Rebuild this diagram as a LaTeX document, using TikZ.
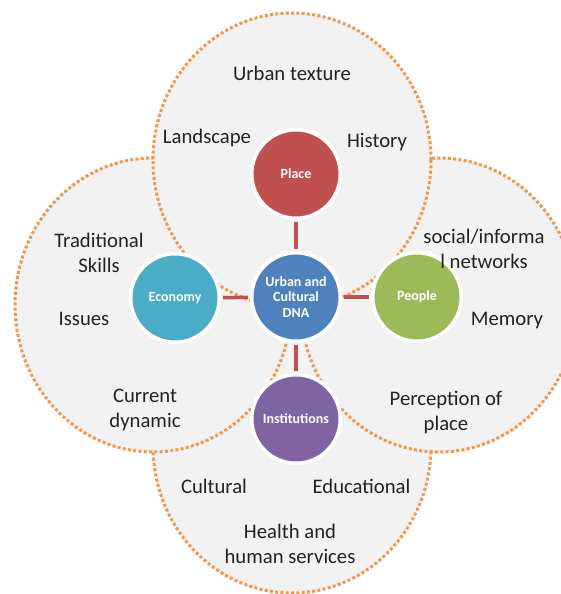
\documentclass[tikz,border=0pt]{standalone}
\usepackage{fontspec}
\setmainfont{Carlito}
\definecolor{placec}{HTML}{C0504D}
\definecolor{econc}{HTML}{4BACC6}
\definecolor{dnac}{HTML}{4F81BD}
\definecolor{peoplec}{HTML}{9BBB59}
\definecolor{instc}{HTML}{8064A2}
\definecolor{dotorange}{HTML}{F79646}
\definecolor{regionfill}{HTML}{F2F2F2}
\definecolor{txt}{HTML}{222222}
\begin{document}
\begin{tikzpicture}[x=1pt,y=-1pt,
  region/.style={fill=regionfill,draw=dotorange,line width=3pt,dash pattern=on 3pt off 2.3pt},
  bub/.style={circle,minimum size=88.5pt,inner sep=0pt,draw=white,line width=3.5pt,text=white,
    font=\bfseries\fontsize{14}{15.5}\selectfont,align=center},
  conn/.style={draw=placec,line width=3.5pt,shorten <=2pt,shorten >=2pt},
  lbl/.style={text=txt,font=\fontsize{20.7}{25}\selectfont,align=center,inner sep=0pt,anchor=base}]
\useasboundingbox (0,0) rectangle (561,594);
\clip (0,0) rectangle (561,594);
\fill[white] (0,0) rectangle (561,594);
% big regions: bottom, left, right, top
\path[region] (292,446) ellipse [x radius=139pt, y radius=147pt];
\path[region] (153,305) ellipse [x radius=138pt, y radius=147pt];
\path[region] (439,305) ellipse [x radius=138pt, y radius=147pt];
\path[region] (292,160) ellipse [x radius=139pt, y radius=147pt];
% central and satellite circles
\node[bub,fill=dnac] (dna) at (296,297) {Urban and\\Cultural\\DNA};
\node[bub,fill=placec] (place) at (296,174) {Place};
\node[bub,fill=econc] (econ) at (175,298) {Economy};
\node[bub,fill=peoplec] (people) at (417,297) {People};
\node[bub,fill=instc] (inst) at (296,419) {Institutions};
% connectors
\draw[conn] (place) -- (dna);
\draw[conn] (econ) -- (dna);
\draw[conn] (people) -- (dna);
\draw[conn] (inst) -- (dna);
% labels (multi-line nodes are placed by the baseline of their last line)
\node[lbl] (t1) at (292,81) {Urban texture};
\node[lbl] (t2) at (207,143) {Landscape};
\node[lbl] (t3) at (377,147) {History};
\node[lbl] (t4) at (99,272) {Traditional\\Skills};
\node[lbl] (t5) at (84,325) {Issues};
\node[lbl] (t6) at (145,427) {Current\\dynamic};
\node[lbl] (t7) at (484,268) {social/informa\\l networks};
\node[lbl] (t8) at (507,325) {Memory};
\node[lbl] (t9) at (446,430) {Perception of\\place};
\node[lbl] (t10) at (214,493) {Cultural};
\node[lbl] (t11) at (361.5,493) {Educational};
\node[lbl] (t12) at (290,563) {Health and\\human services};
\end{tikzpicture}
\end{document}
